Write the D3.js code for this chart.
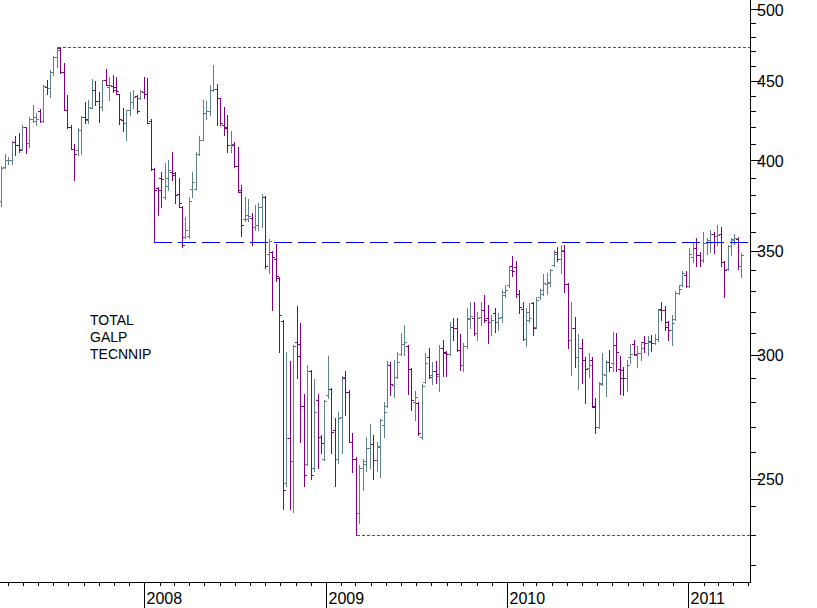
<!DOCTYPE html>
<html><head><meta charset="utf-8">
<script src="https://cdn.jsdelivr.net/npm/d3@7"></script>
<style>html,body{margin:0;padding:0;background:#fff;} svg{display:block;}</style>
</head><body>
<svg id="chart" width="817" height="608"></svg>
<script>
// ---- data (weekly OHLC, first week starting 2007-03-19) ----
const startDate = "2007-03-19";
const opens = [377,396,400,400,411,409,406.5,420,410.5,425.5,424,430,424,446,445,456,466,472,455.5,431,420.5,406.5,406,418.5,426.5,424.5,432,444,436.5,433,450.5,446,446.5,446,441.5,424.5,422.5,431,436,440,438.5,442.5,441.5,424,395,384,389.5,379,385,393.5,392.5,380.5,373.5,357,357.5,383.5,383.5,404,412.5,429,430,443.8,444.5,438.5,421.5,420.5,409,409,396.5,383,367,367,367.5,362.5,363.5,373.5,379,348.5,349.5,346,336,315.5,248.5,265.5,256.5,306,305,278.5,255.5,293,254,281,266,257.5,283,285.5,268.5,257.5,274,290,284,264,257.5,237.5,254,256.5,261.5,263,257,262,270.5,278.5,295.5,287,290.5,300.5,305,304,294,280,279.5,266,288.5,299,291.5,293,291,303,301.5,300.5,313,312.5,302.5,295.5,304,316.5,317,310,317.5,320.5,317,315,319.5,315,317.5,328,333,342,341.5,328.5,321,307.5,316,324,313,327,328.5,333.5,334,343,349.5,346,350,333.5,307,312.5,299,303,298,294.5,298,278,270,287.5,291.5,297,296.5,304.5,294,293.5,290,299,305,300,301,306,305.5,306.5,305.5,307.5,321,320.5,315,311.5,316.5,329,333,337.5,332.5,347,351.5,348,345.5,354,355.5,359,358,359,344.5,340.5,352.5,355.5,356,342];
const highs = [396.5,404,402,411.5,414.5,416.5,421.5,420.5,426.5,434,429,431.5,447,450.5,457,466.5,473,472,462,440.5,421.5,410,419.5,427,436,437.5,451,450,442.5,450.5,458,452.5,453.5,452.5,441.5,432,431,442.5,444,440.5,444,452.5,451.5,425.5,395.5,384.5,393.5,398.5,400,405,393,389.5,374,368,379,393.5,405,414.5,437.5,437,447,460.5,448,438.5,433,428,417.5,411,408,386,379,378,370,374.5,375.5,380.5,379.5,356,350,353.5,336.5,316,301.5,297.5,304.5,322.5,314.5,283.5,295.5,293.5,289.5,283.5,266.5,281,299.5,286,273.5,276,291,293,285,267.5,258,255,257.5,266,271,266.5,264,273,280,297.5,297,298,301.5,310,313.5,304.5,294.5,284.5,280,287.5,301,303,297,297.5,304.5,307,302,315,317,317,309.5,305.5,321.5,324.5,324.5,320,324.5,328,323,318.5,321.5,319.5,330.5,333,342,347.5,345,330.5,324.5,321.5,324,324.5,327,331,338,338.5,340.5,350.5,352,353,353,334,324.5,317.5,309.5,307.5,299,301,299,281.5,288.5,301,298,302.5,310.5,310,299.5,295,298,305,307,304,306,308.5,308.5,309,309.5,321,324.5,322.5,315.5,318.5,330,333,339.5,339.5,351.5,354,356.5,349.5,360,356.5,361,360,363.5,362.5,345,353,356.5,359,357,349];
const lows = [374,395.5,398,398,403,405,406,404.5,408,423.5,421.5,423.5,423.5,441.5,439,453.5,459,455,431,419.5,406.5,388.5,403,404,422.5,422.5,432,434,423.5,431,447,437.5,442.5,441.5,422,417.5,412,428,432,429,438,438.5,422.5,394.5,354.5,369,373.5,378,383,388.5,375.5,373.5,352,356.5,356.5,379,383.5,403,412,425.5,428,443.5,421.5,421.5,415.5,405,405,396,382,357.5,366,365.5,353,361,361,362.5,341,338.5,320.5,335,301.5,239,247.5,239,238,290,264,247.5,255,250,253,254,259.5,257,281.5,259.5,247.5,256,259.5,274.5,264,252.5,230,234,246,253,254,250,253,250.5,266,278,283,282,290,300,300,283.5,276.5,272.5,266.5,265,288,290,287.5,288,284.5,291,291,300,307,302,293.5,293,303,312.5,309,307,313.5,315,305.5,309,310.5,311.5,315,327,332,337,327,319.5,307,304,315,309,312.5,326,328,328.5,332.5,342.5,345,338.5,329.5,303,291.5,295,285.5,288,279.5,290.5,278,267.5,269.5,287,282.5,293,293,293,283.5,283,284.5,296.5,300,295,298,301.5,300,302,305,306.5,316,311.5,307,304.5,316,328.5,332.5,332,332,344.5,342.5,342.5,344.5,348.5,349.5,349,353,342,327,340,348,353.5,340.5,336.5];
const closes = [395.5,400,400.5,411,409,406,420,410.5,425.5,426.5,425,424,446.5,445,456,466,471,455.5,431,420.5,406.5,404,418.5,426.5,425,433,444,436.5,433,450.5,447,447,444,443.5,425,422.5,431,436,439.5,430,443,441.5,423,395,383,383,389,389.5,394.5,391.5,380,375.5,353,361,377,387.5,404,412.5,429,430,444,444.5,438.5,422.5,419.5,409,410,396.5,382,363.5,369,368.5,362.5,363.5,373.5,379,342,355,347,337,318.5,246,265.5,256.5,304,299.5,278.5,251.5,293,251.5,276,266,263.5,280.5,285.5,268,257.5,273.5,290.5,284,264,257.5,237.5,254,255.5,261.5,263,257,262.5,272.5,276,295.5,287.5,290.5,297,305,306,294,281,282,267.5,286.5,296.5,290.5,293,292,303,301,300.5,313,312.5,302.5,295.5,304,317,318,310,317,320.5,316,315,316,315,317,329.5,330.5,340,339.5,328.5,322,307.5,320,317,312.5,325.5,330.5,334,334.5,340,348.5,346,350.5,333.5,307,312.5,299,303,298,294,295.5,278.5,270,288,292,297,295,304.5,301.5,290,290,295.5,300.5,300.5,301,303,305.5,306,305.5,307.5,320.5,320.5,313,311.5,314.5,329,331,338.5,332.5,348.5,351.5,348,345.5,354,355.5,359,358,358.5,344.5,340,352.5,356,356.5,342,348];
const majorTicks = [250, 300, 350, 400, 450, 500];
const minorTicks = [220,230,240,260,270,280,290,310,320,330,340,360,370,380,390,410,420,430,440,460,470,480,490];
const resistanceLevel = 354.5;
const resistanceStartIndex = 44;
const noteLines = ["TOTAL", "GALP", "TECNNIP"];

// ---- drawing ----
const W = 817, H = 608, plotRight = 750, plotBottom = 582;
const UP = "#5f8088", DOWN = "#800080";
const svg = d3.select("#chart");
svg.append("rect").attr("width", W).attr("height", H).attr("fill", "#fff");

const x = d3.scaleUtc().domain([Date.UTC(2008,0,1), Date.UTC(2011,0,1)]).range([144.3, 688.3]);
const y = d3.scaleLog().domain([500, 250]).range([9.3, 478.7]);

const start = new Date(startDate + "T00:00:00Z");
const bars = opens.map((o, i) => ({i, date: d3.utcDay.offset(start, 7 * i), o, h: highs[i], l: lows[i], c: closes[i]}));
const xi = d => Math.round(x(d.date));
const col = d => d.c >= d.o ? UP : DOWN;

const gb = svg.append("g").attr("shape-rendering", "crispEdges");
const bar = gb.selectAll("g").data(bars).join("g").attr("stroke", col).attr("stroke-width", 1);
bar.append("line")
  .attr("x1", d => xi(d) + 0.5).attr("x2", d => xi(d) + 0.5)
  .attr("y1", d => Math.round(y(d.h))).attr("y2", d => Math.round(y(d.l)) + 1);
bar.append("line")
  .attr("x1", d => xi(d) - 2).attr("x2", d => xi(d))
  .attr("y1", d => Math.round(y(d.o)) + 0.5).attr("y2", d => Math.round(y(d.o)) + 0.5);
bar.append("line")
  .attr("x1", d => xi(d) + 1).attr("x2", d => xi(d) + 3)
  .attr("y1", d => Math.round(y(d.c)) + 0.5).attr("y2", d => Math.round(y(d.c)) + 0.5);

// reference lines
const maxBar = bars.reduce((a, b) => b.h > a.h ? b : a);
const minBar = bars.reduce((a, b) => b.l < a.l ? b : a);
const gl = svg.append("g").attr("shape-rendering", "crispEdges");
gl.append("line").attr("x1", xi(maxBar) + 1).attr("x2", plotRight)
  .attr("y1", Math.round(y(maxBar.h)) + 0.5).attr("y2", Math.round(y(maxBar.h)) + 0.5)
  .attr("stroke", "#555").attr("stroke-dasharray", "3,2");
gl.append("line").attr("x1", xi(minBar) + 1).attr("x2", plotRight)
  .attr("y1", Math.round(y(minBar.l)) + 0.5).attr("y2", Math.round(y(minBar.l)) + 0.5)
  .attr("stroke", "#555").attr("stroke-dasharray", "3,2");
gl.append("line").attr("x1", xi(bars[resistanceStartIndex])).attr("x2", plotRight)
  .attr("y1", Math.round(y(resistanceLevel)) + 0.5).attr("y2", Math.round(y(resistanceLevel)) + 0.5)
  .attr("stroke", "#0000ff").attr("stroke-width", 1.5).attr("stroke-dasharray", "18,6");

// axes
const ga = svg.append("g").attr("shape-rendering", "crispEdges").attr("stroke", "#000");
ga.append("line").attr("x1", plotRight + 0.5).attr("x2", plotRight + 0.5).attr("y1", 0).attr("y2", plotBottom + 1);
ga.append("line").attr("x1", 0).attr("x2", plotRight + 1).attr("y1", plotBottom + 0.5).attr("y2", plotBottom + 0.5);
ga.selectAll(".maj").data(majorTicks).join("line").attr("class", "maj")
  .attr("x1", plotRight).attr("x2", plotRight + 11)
  .attr("y1", d => Math.round(y(d)) + 0.5).attr("y2", d => Math.round(y(d)) + 0.5);
ga.selectAll(".min").data(minorTicks).join("line").attr("class", "min")
  .attr("x1", plotRight).attr("x2", plotRight + 6)
  .attr("y1", d => Math.round(y(d)) + 0.5).attr("y2", d => Math.round(y(d)) + 0.5);

const font = "'Liberation Sans', Arial, sans-serif";
svg.append("g").selectAll("text").data(majorTicks).join("text")
  .attr("x", 757).attr("y", d => y(d) + 6.2)
  .attr("font-family", font).attr("font-size", 16).attr("fill", "#000")
  .text(d => d);

const months = d3.utcMonth.range(x.invert(0), x.invert(plotRight + 1));
ga.selectAll(".mt").data(months.filter(m => m.getUTCMonth() !== 0)).join("line").attr("class", "mt")
  .attr("x1", d => Math.round(x(d)) + 0.5).attr("x2", d => Math.round(x(d)) + 0.5)
  .attr("y1", plotBottom).attr("y2", plotBottom + 4);
const years = months.filter(m => m.getUTCMonth() === 0);
ga.selectAll(".yt").data(years).join("line").attr("class", "yt")
  .attr("x1", d => Math.round(x(d)) + 0.5).attr("x2", d => Math.round(x(d)) + 0.5)
  .attr("y1", plotBottom).attr("y2", H);
svg.append("g").selectAll("text").data(years).join("text")
  .attr("x", d => Math.round(x(d)) + 2.5).attr("y", 604)
  .attr("font-family", font).attr("font-size", 16).attr("fill", "#000")
  .text(d => d.getUTCFullYear());

svg.append("g").selectAll("text").data(noteLines).join("text")
  .attr("x", 90).attr("y", (d, i) => [325, 342, 359][i])
  .attr("font-family", font).attr("font-size", 14).attr("fill", "#000")
  .text(d => d);
</script>
</body></html>
